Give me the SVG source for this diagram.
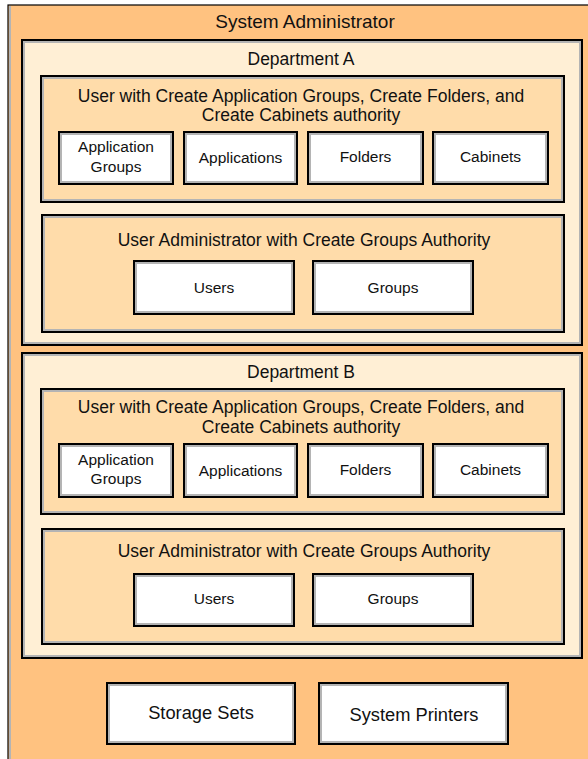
<svg xmlns="http://www.w3.org/2000/svg" width="588" height="759" viewBox="0 0 588 759">
<style>
text{font-family:"Liberation Sans",Arial,sans-serif;fill:#111;text-anchor:middle}
.t1{font-size:19px}
.t2{font-size:17.5px}
.t3{font-size:15.5px}
.t4{font-size:18.3px}
.bk{stroke:#000;stroke-width:2}
.gr{stroke:#b4b4b4;stroke-width:2;fill:none}
.org{fill:#ffc280}
.dep{fill:#ffefd5}
.grp{fill:#ffdcaa}
.wh{fill:#fff}
</style>
<rect width="588" height="759" fill="#fff"/>
<g id="system-administrator">
<rect class="org" x="8" y="5" width="600" height="800" stroke="#000" stroke-width="1.2"/>
<line x1="10" y1="6" x2="10" y2="759" stroke="#b4b4b4" stroke-width="2"/>
<text class="t1" x="305" y="28">System Administrator</text>
</g>
<g id="department-a">
<rect class="dep bk" x="22" y="40" width="560" height="305"/>
<rect class="gr" x="24" y="42" width="556" height="301"/>
<text class="t2" x="301" y="65">Department A</text>
</g>
<g id="group-a1">
<rect class="grp bk" x="41" y="76" width="523" height="126"/>
<rect class="gr" x="43" y="78" width="519" height="122"/>
<text class="t2" x="301" y="101.7">User with Create Application Groups, Create Folders, and</text>
<text class="t2" x="301" y="120.7">Create Cabinets authority</text>
</g>
<g id="a-application-groups">
<rect class="wh bk" x="59" y="132" width="114" height="52"/>
<rect class="gr" x="61" y="134" width="110" height="48"/>
<text class="t3" x="116" y="151.7">Application</text>
<text class="t3" x="116" y="171.7">Groups</text>
</g>
<g id="a-applications">
<rect class="wh bk" x="184" y="132" width="113" height="52"/>
<rect class="gr" x="186" y="134" width="109" height="48"/>
<text class="t3" x="240.5" y="163">Applications</text>
</g>
<g id="a-folders">
<rect class="wh bk" x="308" y="132" width="115" height="52"/>
<rect class="gr" x="310" y="134" width="111" height="48"/>
<text class="t3" x="365.5" y="162">Folders</text>
</g>
<g id="a-cabinets">
<rect class="wh bk" x="433" y="132" width="115" height="52"/>
<rect class="gr" x="435" y="134" width="111" height="48"/>
<text class="t3" x="490.5" y="162">Cabinets</text>
</g>
<g id="admin-a">
<rect class="grp bk" x="42" y="215" width="522" height="117"/>
<rect class="gr" x="44" y="217" width="518" height="113"/>
<text class="t2" x="304" y="245.7">User Administrator with Create Groups Authority</text>
</g>
<g id="a-users">
<rect class="wh bk" x="134" y="261" width="160" height="53"/>
<rect class="gr" x="136" y="263" width="156" height="49"/>
<text class="t3" x="214" y="292.7">Users</text>
</g>
<g id="a-groups">
<rect class="wh bk" x="313" y="261" width="160" height="53"/>
<rect class="gr" x="315" y="263" width="156" height="49"/>
<text class="t3" x="393" y="292.7">Groups</text>
</g>
<g id="department-b">
<rect class="dep bk" x="22" y="353" width="560" height="305"/>
<rect class="gr" x="24" y="355" width="556" height="301"/>
<text class="t2" x="301" y="377.7">Department B</text>
</g>
<g id="group-b1">
<rect class="grp bk" x="41" y="389" width="523" height="125"/>
<rect class="gr" x="43" y="391" width="519" height="121"/>
<text class="t2" x="301" y="413.3">User with Create Application Groups, Create Folders, and</text>
<text class="t2" x="301" y="432.7">Create Cabinets authority</text>
</g>
<g id="b-application-groups">
<rect class="wh bk" x="59" y="444" width="114" height="53"/>
<rect class="gr" x="61" y="446" width="110" height="49"/>
<text class="t3" x="116" y="465">Application</text>
<text class="t3" x="116" y="484.3">Groups</text>
</g>
<g id="b-applications">
<rect class="wh bk" x="184" y="444" width="113" height="53"/>
<rect class="gr" x="186" y="446" width="109" height="49"/>
<text class="t3" x="240.5" y="476">Applications</text>
</g>
<g id="b-folders">
<rect class="wh bk" x="308" y="444" width="115" height="53"/>
<rect class="gr" x="310" y="446" width="111" height="49"/>
<text class="t3" x="365.5" y="475">Folders</text>
</g>
<g id="b-cabinets">
<rect class="wh bk" x="433" y="444" width="115" height="53"/>
<rect class="gr" x="435" y="446" width="111" height="49"/>
<text class="t3" x="490.5" y="475">Cabinets</text>
</g>
<g id="admin-b">
<rect class="grp bk" x="42" y="529" width="522" height="115"/>
<rect class="gr" x="44" y="531" width="518" height="111"/>
<text class="t2" x="304" y="557.3">User Administrator with Create Groups Authority</text>
</g>
<g id="b-users">
<rect class="wh bk" x="134" y="574" width="160" height="52"/>
<rect class="gr" x="136" y="576" width="156" height="48"/>
<text class="t3" x="214" y="604.3">Users</text>
</g>
<g id="b-groups">
<rect class="wh bk" x="313" y="574" width="160" height="52"/>
<rect class="gr" x="315" y="576" width="156" height="48"/>
<text class="t3" x="393" y="604.3">Groups</text>
</g>
<g id="storage-sets">
<rect class="wh bk" x="107" y="683" width="188" height="61"/>
<rect class="gr" x="109" y="685" width="184" height="57"/>
<text class="t4" x="201" y="719">Storage Sets</text>
</g>
<g id="system-printers">
<rect class="wh bk" x="319" y="683" width="189" height="61"/>
<rect class="gr" x="321" y="685" width="185" height="57"/>
<text class="t4" x="414" y="721">System Printers</text>
</g>
<g id="connectors"/>
</svg>
